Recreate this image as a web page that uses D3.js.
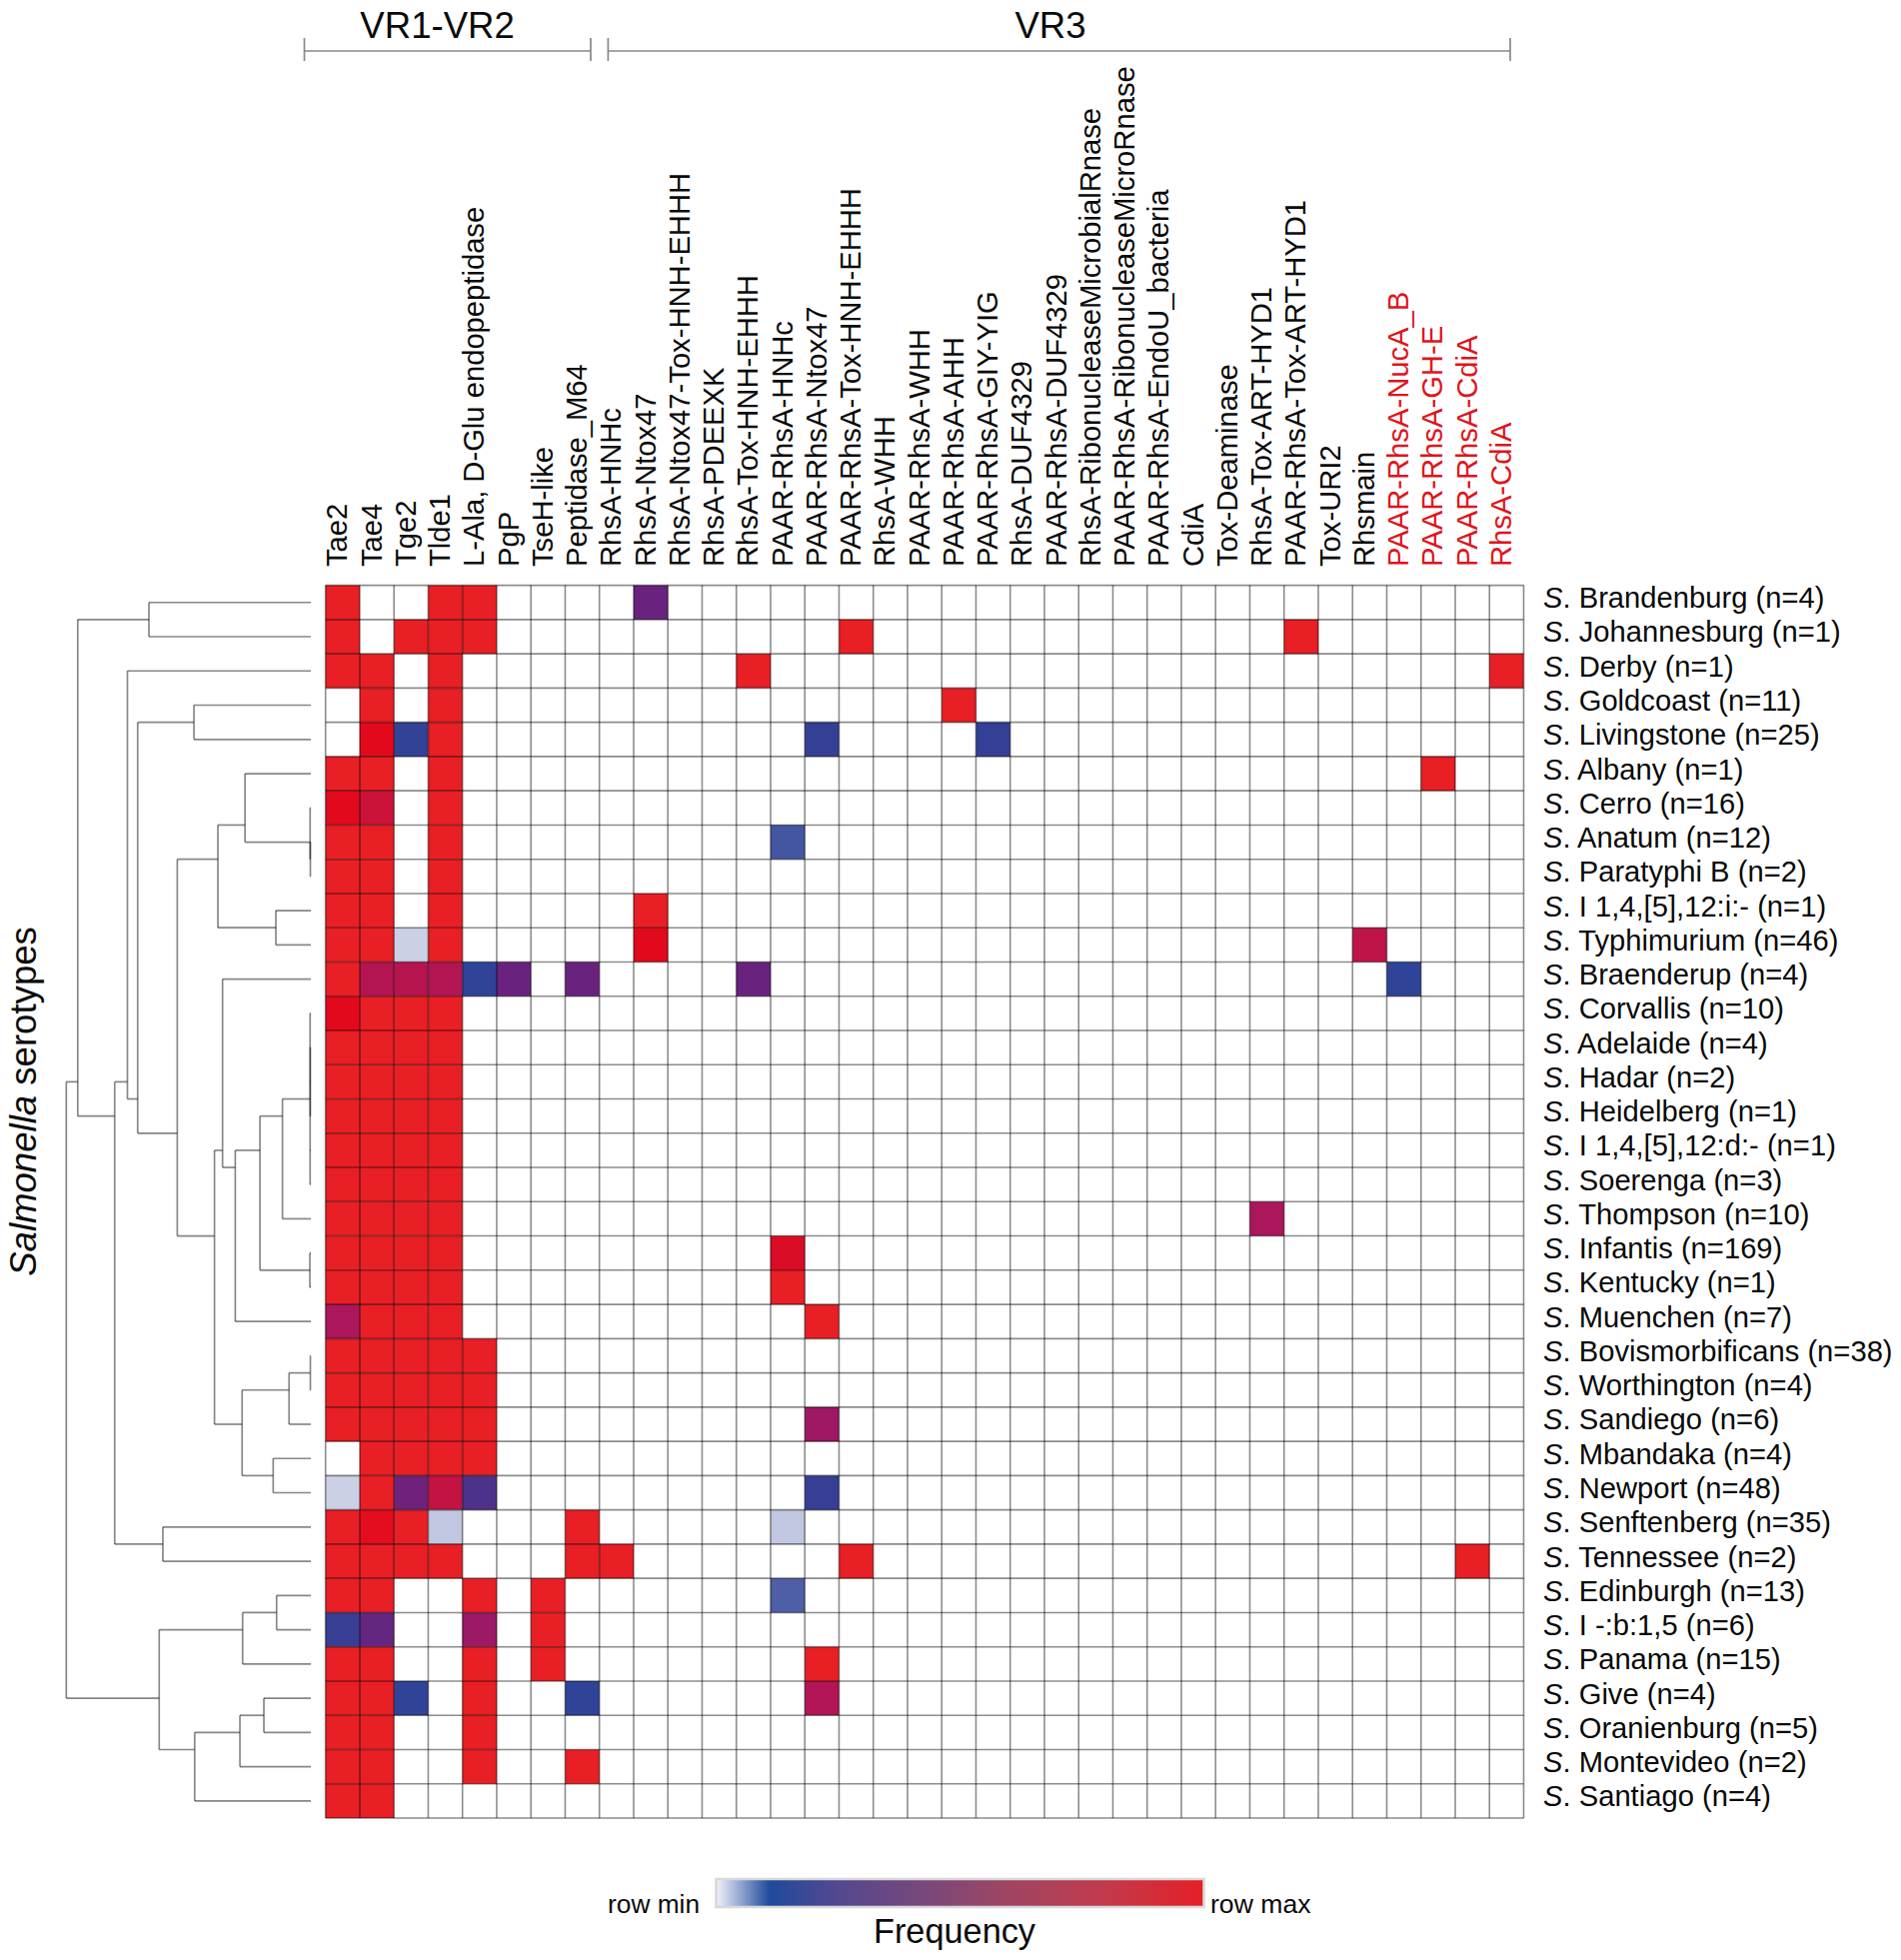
<!DOCTYPE html>
<html>
<head>
<meta charset="utf-8">
<script src="https://cdn.jsdelivr.net/npm/d3@7"></script>
<style>
  html, body { margin: 0; padding: 0; background: #fff; }
  svg { display: block; font-family: "Liberation Sans", Arial, sans-serif; }
</style>
</head>
<body>
<svg id="chart"></svg>
<script>
const toxins = ["Tae2", "Tae4", "Tge2", "Tlde1", "L-Ala, D-Glu endopeptidase", "PgP", "TseH-like", "Peptidase_M64",
  "RhsA-HNHc", "RhsA-Ntox47", "RhsA-Ntox47-Tox-HNH-EHHH", "RhsA-PDEEXK", "RhsA-Tox-HNH-EHHH", "PAAR-RhsA-HNHc",
  "PAAR-RhsA-Ntox47", "PAAR-RhsA-Tox-HNH-EHHH", "RhsA-WHH", "PAAR-RhsA-WHH", "PAAR-RhsA-AHH", "PAAR-RhsA-GIY-YIG",
  "RhsA-DUF4329", "PAAR-RhsA-DUF4329", "RhsA-RibonucleaseMicrobialRnase", "PAAR-RhsA-RibonucleaseMicroRnase",
  "PAAR-RhsA-EndoU_bacteria", "CdiA", "Tox-Deaminase", "RhsA-Tox-ART-HYD1", "PAAR-RhsA-Tox-ART-HYD1", "Tox-URI2",
  "Rhsmain", "PAAR-RhsA-NucA_B", "PAAR-RhsA-GH-E", "PAAR-RhsA-CdiA", "RhsA-CdiA"];

// the last four column labels are red
const redToxins = ["PAAR-RhsA-NucA_B", "PAAR-RhsA-GH-E", "PAAR-RhsA-CdiA", "RhsA-CdiA"];

const serotypes = ["Brandenburg (n=4)", "Johannesburg (n=1)", "Derby (n=1)", "Goldcoast (n=11)", "Livingstone (n=25)",
  "Albany (n=1)", "Cerro (n=16)", "Anatum (n=12)", "Paratyphi B (n=2)", "I 1,4,[5],12:i:- (n=1)", "Typhimurium (n=46)",
  "Braenderup (n=4)", "Corvallis (n=10)", "Adelaide (n=4)", "Hadar (n=2)", "Heidelberg (n=1)", "I 1,4,[5],12:d:- (n=1)",
  "Soerenga (n=3)", "Thompson (n=10)", "Infantis (n=169)", "Kentucky (n=1)", "Muenchen (n=7)", "Bovismorbificans (n=38)",
  "Worthington (n=4)", "Sandiego (n=6)", "Mbandaka (n=4)", "Newport (n=48)", "Senftenberg (n=35)", "Tennessee (n=2)",
  "Edinburgh (n=13)", "I -:b:1,5 (n=6)", "Panama (n=15)", "Give (n=4)", "Oranienburg (n=5)", "Montevideo (n=2)",
  "Santiago (n=4)"];

// per serotype: [toxin index, row-scaled frequency], everything else is 0
const rowHits = [
  [[0, 1], [3, 1], [4, 1], [9, .35]],
  [[0, 1], [2, 1], [3, 1], [4, 1], [15, 1], [28, 1]],
  [[0, 1], [1, 1], [3, 1], [12, 1], [34, 1]],
  [[1, 1], [3, 1], [18, 1]],
  [[1, .95], [2, .11], [3, 1], [14, .12], [19, .12]],
  [[0, 1], [1, 1], [3, 1], [32, 1]],
  [[0, .95], [1, .8], [3, 1]],
  [[0, 1], [1, 1], [3, 1], [13, .09]],
  [[0, 1], [1, 1], [3, 1]],
  [[0, 1], [1, 1], [3, 1], [9, 1]],
  [[0, 1], [1, 1], [2, .025], [3, 1], [9, .95], [30, .72]],
  [[0, 1], [1, .66], [2, .68], [3, .66], [4, .1], [5, .35], [7, .35], [12, .35], [31, .1]],
  [[0, .95], [1, 1], [2, 1], [3, 1]],
  [[0, 1], [1, 1], [2, 1], [3, 1]],
  [[0, 1], [1, 1], [2, 1], [3, 1]],
  [[0, 1], [1, 1], [2, 1], [3, 1]],
  [[0, 1], [1, 1], [2, 1], [3, 1]],
  [[0, 1], [1, 1], [2, 1], [3, 1]],
  [[0, 1], [1, 1], [2, 1], [3, 1], [27, .62]],
  [[0, 1], [1, 1], [2, 1], [3, 1], [13, .9]],
  [[0, 1], [1, 1], [2, 1], [3, 1], [13, 1]],
  [[0, .62], [1, 1], [2, 1], [3, 1], [14, 1]],
  [[0, 1], [1, 1], [2, 1], [3, 1], [4, 1]],
  [[0, 1], [1, 1], [2, 1], [3, 1], [4, 1]],
  [[0, 1], [1, 1], [2, 1], [3, 1], [4, 1], [14, .56]],
  [[1, 1], [2, 1], [3, 1], [4, 1]],
  [[0, .025], [1, 1], [2, .37], [3, .75], [4, .23], [14, .13]],
  [[0, 1], [1, .96], [2, 1], [3, .03], [7, 1], [13, .03]],
  [[0, 1], [1, 1], [2, 1], [3, 1], [7, 1], [8, 1], [15, 1], [33, 1]],
  [[0, 1], [1, 1], [4, 1], [6, 1], [13, .085]],
  [[0, .14], [1, .33], [4, .55], [6, 1]],
  [[0, 1], [1, 1], [4, 1], [6, 1], [14, 1]],
  [[0, 1], [1, 1], [2, .1], [4, 1], [7, .1], [14, .65]],
  [[0, 1], [1, 1], [4, 1]],
  [[0, 1], [1, 1], [4, 1], [7, 1]],
  [[0, 1], [1, 1]]
];

// dendrogram as nested lists: [height, child, child, ...], a plain number is a row of the heatmap
const dendrogram = [100,
  [95.3,
    [66.2, 0, 1],
    [80.2,
      [75, 2,
        [70.8,
          [47.8, 3, 4],
          [54.6,
            [38,
              [26.9, 5, [.3, 6, [.2, 7, 8]]],
              [14.3, 9, 10]],
            [39.4,
              [36.1, 11,
                [30.9,
                  [20.8,
                    [11.6,
                      [.3, 12, [.25, 13, 14, 15], 16, 17],
                      18],
                    [.4, 19, 20]],
                  21]],
              [28.1,
                [8.9, [.2, 22, 23], 24],
                [15.4, 25, 26]]]]]],
      [60.5, 27, 28]]],
  [62,
    [27.9, [14, 29, 30], 31],
    [47.5, [29, [19.2, 32, 33], 34], 35]]];

const colorStops = [0, .1, .35, .6, .8, .95, 1];
const colorRange = ["#ffffff", "#2f4398", "#69237f", "#a8165e", "#cc1238", "#e3091c", "#e81f24"];

const legendStops = [0, .11, .25, .45, .6, .8, 1];
const legendColors = ["#f2f2fa", "#1f4a9c", "#54488f", "#7d4878", "#a04562", "#c23a4c", "#e51f26"];

const brackets = [
  { name: "VR1-VR2", from: 304.5, to: 591, labelX: 437.6 },
  { name: "VR3", from: 608.4, to: 1511, labelX: 1051 }
];

const chartWidth = 1902;
const chartHeight = 1961;
const ink = "#0a0a0a";

const svg = d3.select("#chart").attr("width", chartWidth).attr("height", chartHeight);

const x = d3.scaleBand().domain(toxins).range([325.7, 1524.5]);
const y = d3.scaleBand().domain(serotypes).range([585.6, 1819]);
const color = d3.scaleLinear().domain(colorStops).range(colorRange);
const rowMid = i => y(serotypes[i]) + y.bandwidth() / 2;

// heatmap cells
const cells = rowHits.flatMap((hits, r) => hits.map(([c, v]) => ({ r, c, v })));
svg.append("g")
  .selectAll("rect")
  .data(cells)
  .join("rect")
  .attr("x", d => x(toxins[d.c]))
  .attr("y", d => y(serotypes[d.r]))
  .attr("width", x.bandwidth())
  .attr("height", y.bandwidth())
  .attr("fill", d => color(d.v));

// grid goes over the cells, translucent so it turns dark on the red
const grid = svg.append("g").attr("stroke", "#000").attr("stroke-opacity", 0.45).attr("stroke-width", 1.6);
grid.selectAll("line.v")
  .data(toxins.map(d => x(d)).concat(x.range()[1]))
  .join("line")
  .attr("class", "v")
  .attr("x1", d => d).attr("x2", d => d)
  .attr("y1", y.range()[0]).attr("y2", y.range()[1]);
grid.selectAll("line.h")
  .data(serotypes.map(d => y(d)).concat(y.range()[1]))
  .join("line")
  .attr("class", "h")
  .attr("y1", d => d).attr("y2", d => d)
  .attr("x1", x.range()[0]).attr("x2", x.range()[1]);

// column labels
svg.append("g")
  .selectAll("text")
  .data(toxins)
  .join("text")
  .attr("transform", d => `translate(${x(d) + x.bandwidth() / 2 + 4.5},567) rotate(-90)`)
  .attr("fill", d => redToxins.includes(d) ? "#e0141c" : ink)
  .style("font-size", "29.2px")
  .text(d => d);

// row labels
const rowLabels = svg.append("g")
  .selectAll("text")
  .data(serotypes)
  .join("text")
  .attr("x", 1544)
  .attr("y", d => y(d) + y.bandwidth() / 2 + 5.5)
  .attr("fill", ink)
  .style("font-size", "29.2px");
rowLabels.append("tspan").style("font-style", "italic").text("S");
rowLabels.append("tspan").text(d => ". " + d);

// dendrogram, each node sits at the mean of its leaf rows
const tree = d3.hierarchy(dendrogram, d => Array.isArray(d) ? d.slice(1) : null);
const dx = d3.scaleLinear().domain([0, 100]).range([311, 66.3]);
const nodeX = n => n.children ? dx(n.data[0]) : dx(0);
const nodeY = n => d3.mean(n.leaves(), l => rowMid(l.data));

const dendro = svg.append("g").attr("stroke", "#000").attr("stroke-opacity", 0.47).attr("stroke-width", 1.7).attr("fill", "none");
dendro.selectAll("path.stem")
  .data(tree.descendants().filter(n => n.parent))
  .join("path")
  .attr("class", "stem")
  .attr("d", n => `M${nodeX(n.parent)},${nodeY(n)}H${nodeX(n)}`);
dendro.selectAll("path.bar")
  .data(tree.descendants().filter(n => n.children))
  .join("path")
  .attr("class", "bar")
  .attr("d", n => {
    const ys = n.children.map(nodeY);
    return `M${nodeX(n)},${d3.min(ys)}V${d3.max(ys)}`;
  });

// y title
const yTitle = svg.append("text")
  .attr("transform", "translate(36,1102) rotate(-90)")
  .attr("text-anchor", "middle")
  .attr("fill", ink)
  .style("font-size", "36.6px");
yTitle.append("tspan").style("font-style", "italic").text("Salmonella");
yTitle.append("tspan").text(" serotypes");

// VR brackets on top
const bracketGroups = svg.append("g").selectAll("g").data(brackets).join("g");
bracketGroups.append("path")
  .attr("d", d => `M${d.from},38V61M${d.from},51H${d.to}M${d.to},38V61`)
  .attr("fill", "none")
  .attr("stroke", "#888")
  .attr("stroke-width", 1.7);
bracketGroups.append("text")
  .attr("x", d => d.labelX)
  .attr("y", 38)
  .attr("text-anchor", "middle")
  .attr("fill", ink)
  .style("font-size", "36.6px")
  .text(d => d.name);

// colour legend
const grad = svg.append("defs").append("linearGradient").attr("id", "legendGrad");
grad.selectAll("stop")
  .data(legendStops)
  .join("stop")
  .attr("offset", d => d)
  .attr("stop-color", (d, i) => legendColors[i]);
svg.append("rect")
  .attr("x", 716.5).attr("y", 1880)
  .attr("width", 488).attr("height", 28)
  .attr("fill", "url(#legendGrad)")
  .attr("stroke", "#d8d8d8")
  .attr("stroke-width", 2.5);
svg.append("text").attr("x", 608).attr("y", 1914).attr("fill", ink).style("font-size", "26.3px").text("row min");
svg.append("text").attr("x", 1211).attr("y", 1914).attr("fill", ink).style("font-size", "26.6px").text("row max");
svg.append("text").attr("x", 955).attr("y", 1944).attr("text-anchor", "middle").attr("fill", ink).style("font-size", "34.3px").text("Frequency");
</script>
</body>
</html>
